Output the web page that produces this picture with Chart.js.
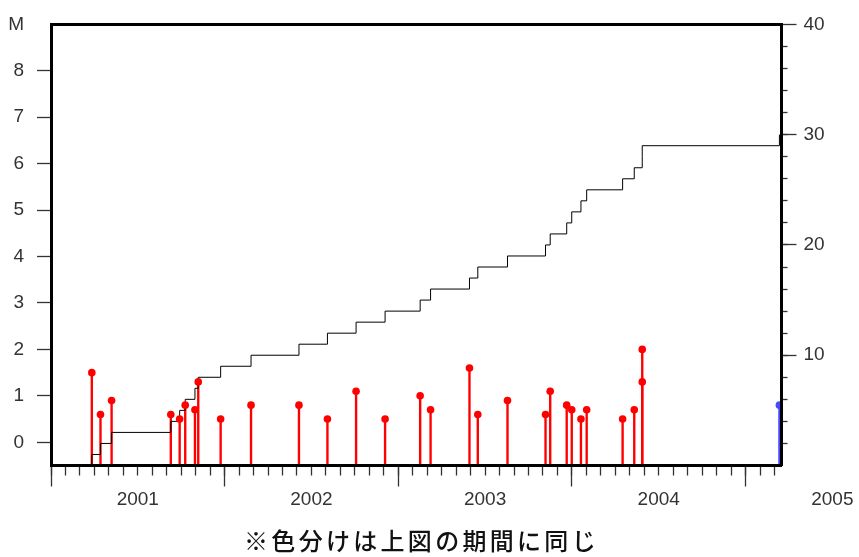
<!DOCTYPE html>
<html>
<head>
<meta charset="utf-8">
<script src="https://cdn.jsdelivr.net/npm/chart.js@4.4.1/dist/chart.umd.min.js"></script>
<style>
  html, body { margin: 0; padding: 0; background: #fff; }
  #wrap { position: relative; width: 859px; height: 557px; }
  #caption {
    position: absolute; left: 0; top: 525px; width: 843px;
    text-align: center; color: #111;
    font-family: "Noto Sans CJK JP", sans-serif; font-size: 24px; font-weight: 500;
    letter-spacing: 3.3px; line-height: 30px;
  }
</style>
</head>
<body>
<div id="wrap">
  <canvas id="chart1" width="859" height="557"></canvas>
  <div id="caption">※色分けは上図の期間に同じ</div>
</div>
<script>
// event times (decimal years) and magnitudes
const redTimes = [2001.235, 2001.285, 2001.349, 2001.690, 2001.741, 2001.773, 2001.829, 2001.848, 2001.977,
    2002.152, 2002.428, 2002.592, 2002.757, 2002.924,
    2003.126, 2003.186, 2003.410, 2003.458, 2003.629, 2003.848, 2003.875, 2003.970, 2003.999,
    2004.052, 2004.085, 2004.292, 2004.359, 2004.405, 2004.405];
const redMags = [1.5, 0.6, 0.9, 0.6, 0.5, 0.8, 0.7, 1.3, 0.5,
    0.8, 0.8, 0.5, 1.1, 0.5,
    1.0, 0.7, 1.6, 0.6, 0.9, 0.6, 1.1, 0.8, 0.7,
    0.5, 0.7, 0.5, 0.7, 1.3, 2.0];
const blueTimes = [2005.195];
const blueMags = [0.8];

const yearLabels = ['2001', '2002', '2003', '2004', '2005'];
const magLabels = ['0', '1', '2', '3', '4', '5', '6', '7', '8', 'M'];
const countLabels = ['10', '20', '30', '40'];

const X_MIN = 2001, X_MAX = 2005.207;
const M_MIN = -0.5, M_MAX = 9;
const N_MIN = 0, N_MAX = 40;

const ink = '#333';
const axisFont = { family: 'Liberation Sans', size: 19 };

// cumulative count, one step per event
const allTimes = redTimes.concat(blueTimes);
const cumData = [{ x: allTimes[0], y: 0 }].concat(allTimes.map((t, i) => ({ x: t, y: i + 1 })));

const toPts = (ts, ms) => ts.map((t, i) => ({ x: t, y: ms[i] }));

const ctx1 = document.getElementById('chart1').getContext('2d');
const chart1 = new Chart(ctx1, {
    type: 'line',
    data: {
        datasets: [{
            type: 'scatter',
            data: toPts(redTimes, redMags),
            xAxisID: 'x', yAxisID: 'yM',
            pointRadius: 3.8, pointBorderWidth: 0,
            pointBackgroundColor: '#ff0000',
            order: 0
        }, {
            type: 'scatter',
            data: toPts(blueTimes, blueMags),
            xAxisID: 'x', yAxisID: 'yM',
            pointRadius: 3.8, pointBorderWidth: 0,
            pointBackgroundColor: '#4848ff',
            order: 0
        }, {
            type: 'line',
            data: cumData,
            xAxisID: 'x', yAxisID: 'yN',
            stepped: 'before',
            borderColor: '#000',
            borderWidth: 1,
            pointRadius: 0,
            order: 1
        }, {
            type: 'bar',
            data: toPts(redTimes, redMags),
            xAxisID: 'x', yAxisID: 'yM',
            base: M_MIN,
            grouped: false,
            maxBarThickness: 2.4,
            backgroundColor: '#ff0000',
            order: 2
        }, {
            type: 'bar',
            data: toPts(blueTimes, blueMags),
            xAxisID: 'x', yAxisID: 'yM',
            base: M_MIN,
            grouped: false,
            maxBarThickness: 2.4,
            backgroundColor: '#4848ff',
            order: 2
        }]
    },
    options: {
        responsive: false,
        animation: false,
        layout: { padding: 0 },
        plugins: {
            legend: { display: false },
            tooltip: { enabled: false }
        },
        scales: {
            xYear: {
                type: 'linear', position: 'bottom', weight: 0,
                min: X_MIN, max: X_MAX, bounds: 'data', offset: false,
                afterBuildTicks: s => { s.ticks = yearLabels.map(l => ({ value: Number(l) })); },
                afterFit: s => { s.height = 0; },
                ticks: { display: false },
                grid: { drawOnChartArea: false, offset: false, tickLength: 21, tickWidth: 1.3, tickColor: ink },
                border: { display: true, color: '#000', width: 3, z: 1 }
            },
            x: {
                type: 'linear', position: 'bottom', weight: 1,
                min: X_MIN, max: X_MAX, bounds: 'data', offset: false,
                afterBuildTicks: s => {
                    const t = [];
                    for (let k = 0; X_MIN + k / 12 <= X_MAX; k++) t.push({ value: X_MIN + k / 12 });
                    s.ticks = t;
                },
                afterFit: s => { s.height = 91.5; },
                ticks: {
                    autoSkip: false, maxRotation: 0, minRotation: 0,
                    labelOffset: 86.8, padding: 13,
                    font: axisFont, color: ink,
                    callback: (v, i) => (i % 12 === 0 ? yearLabels[i / 12] : '')
                },
                grid: { drawOnChartArea: false, offset: false, tickLength: 10, tickWidth: 1.3, tickColor: ink },
                border: { display: false }
            },
            xTop: {
                type: 'linear', position: 'top',
                min: X_MIN, max: X_MAX, bounds: 'data', offset: false,
                afterFit: s => { s.height = 19.5; },
                ticks: { display: false },
                grid: { drawOnChartArea: false, drawTicks: false },
                border: { display: true, color: '#000', width: 3, z: 1 }
            },
            yM: {
                type: 'linear', position: 'left',
                min: M_MIN, max: M_MAX, bounds: 'data',
                afterBuildTicks: s => { s.ticks = magLabels.map((l, i) => ({ value: i })); },
                afterFit: s => { s.width = 51; },
                ticks: { padding: 13, font: axisFont, color: ink, callback: (v, i) => magLabels[i] },
                grid: {
                    drawOnChartArea: false, tickLength: 14, tickWidth: 1.3,
                    tickColor: c => (c.index === magLabels.length - 1 ? 'rgba(0,0,0,0)' : ink)
                },
                border: { display: true, color: '#000', width: 3, z: 1 }
            },
            yNminor: {
                type: 'linear', position: 'right', weight: 0,
                min: N_MIN, max: N_MAX, bounds: 'data',
                afterBuildTicks: s => {
                    const t = [];
                    for (let v = N_MIN + 2; v < N_MAX; v += 2) t.push({ value: v });
                    s.ticks = t;
                },
                afterFit: s => { s.width = 0; },
                ticks: { display: false },
                grid: { drawOnChartArea: false, tickLength: 6, tickWidth: 1.3, tickColor: ink },
                border: { display: false }
            },
            yN: {
                type: 'linear', position: 'right', weight: 1,
                min: N_MIN, max: N_MAX, bounds: 'data',
                afterBuildTicks: s => { s.ticks = countLabels.map(l => ({ value: Number(l) })); },
                afterFit: s => { s.width = 77.5; },
                ticks: { padding: 7, font: axisFont, color: ink, callback: (v, i) => countLabels[i] },
                grid: { drawOnChartArea: false, tickLength: 15, tickWidth: 1.3, tickColor: ink },
                border: { display: true, color: '#000', width: 3, z: 1 }
            }
        }
    }
});
</script>
</body>
</html>
